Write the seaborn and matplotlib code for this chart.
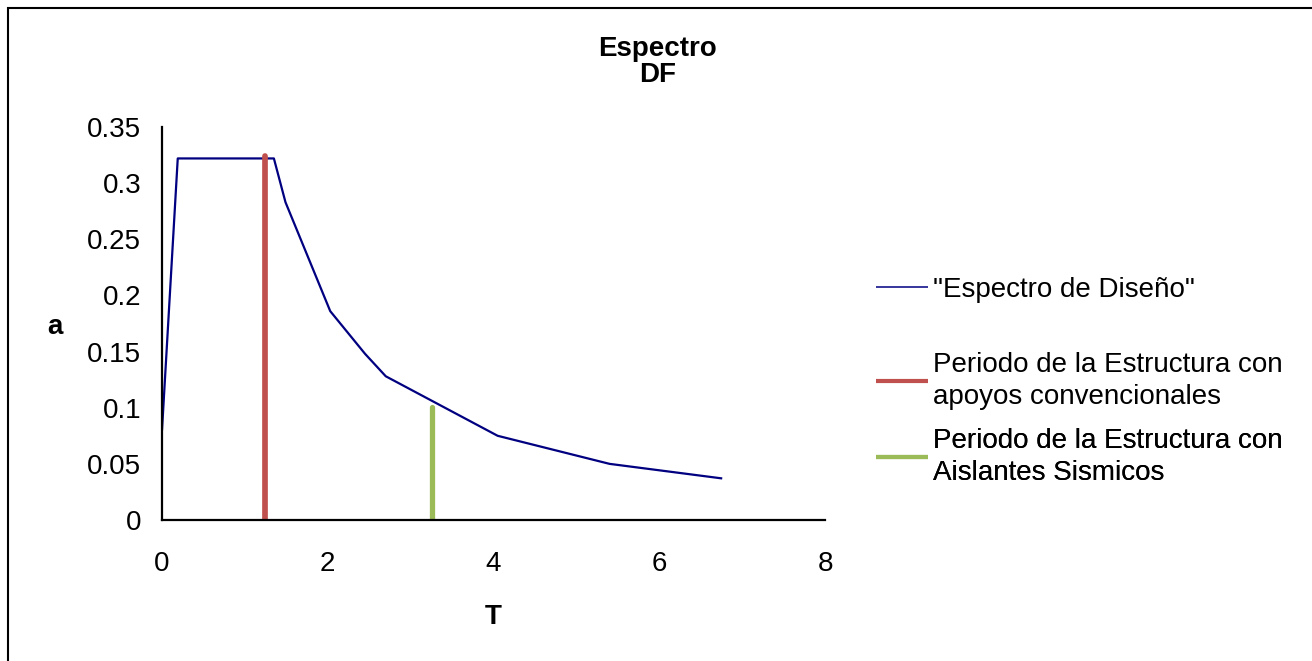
import matplotlib
matplotlib.use("Agg")
import matplotlib.pyplot as plt
from matplotlib.patches import Rectangle
import seaborn as sns
import pandas as pd

# Design spectrum (period T in s, spectral acceleration a)
T_espectro = [0.0, 0.19, 1.35, 1.49, 2.03, 2.45, 2.70, 4.05, 5.40, 6.76]
a_espectro = [0.080, 0.322, 0.322, 0.283, 0.186, 0.148, 0.128, 0.075, 0.050, 0.037]

# Structure periods
T_convencional = [1.24, 1.24]
a_convencional = [0.0, 0.324]
T_aislada = [3.26, 3.26]
a_aislada = [0.0, 0.101]

labels = ['"Espectro de Diseño"',
          "Periodo de la Estructura con\napoyos convencionales",
          "Periodo de la Estructura con\nAislantes Sismicos"]
colors = ["#000080", "#C0504D", "#9BBB59"]
widths = [1.6, 4.1, 3.8]
caps = ["butt", "round", "round"]
FS = 20

sns.set_theme(style="white")
plt.rcParams["font.family"] = ["Liberation Sans", "DejaVu Sans"]
plt.rcParams["text.color"] = "black"
plt.rcParams["axes.labelcolor"] = "black"

fig = plt.figure(figsize=(13.12, 6.61), dpi=100)
fig.patch.set_facecolor("white")
ax = fig.add_axes([162 / 1312, 1 - 520 / 661, (825 - 162) / 1312, (520 - 127) / 661])

series = [(T_espectro, a_espectro), (T_convencional, a_convencional), (T_aislada, a_aislada)]
for (xs, ys), lab, c, w, cap in zip(series, labels, colors, widths, caps):
    df = pd.DataFrame({"T": xs, "a": ys})
    sns.lineplot(data=df, x="T", y="a", sort=False, estimator=None, color=c,
                 linewidth=w, label=lab, ax=ax, solid_capstyle=cap, clip_on=True)

ax.set_xlim(0, 8)
ax.set_ylim(0, 0.35)
ax.set_xticks([0, 2, 4, 6, 8])
ax.set_yticks([0, 0.05, 0.1, 0.15, 0.2, 0.25, 0.3, 0.35])
ax.set_yticklabels(["0", "0.05", "0.1", "0.15", "0.2", "0.25", "0.3", "0.35"])
ax.tick_params(axis="both", labelsize=FS, length=0, colors="black")
ax.tick_params(axis="x", pad=22)
ax.tick_params(axis="y", pad=15)
for side in ("top", "right"):
    ax.spines[side].set_visible(False)
for side in ("left", "bottom"):
    ax.spines[side].set_color("black")
    ax.spines[side].set_linewidth(1.6)
    ax.spines[side].set_zorder(3)

ax.set_xlabel("T", fontsize=FS, fontweight="bold")
ax.set_ylabel("a", fontsize=FS, fontweight="bold", rotation=0)
ax.xaxis.set_label_coords((493 - 162) / 663, (520 - 617) / 393)
ax.yaxis.set_label_coords((55 - 162) / 663, (520 - 327) / 393)
ax.xaxis.label.set_va("center")
ax.yaxis.label.set_va("center")
ax.yaxis.label.set_ha("center")

fig.text(658 / 1312, 1 - 62 / 661, "Espectro\nDF", ha="center", va="center",
         fontsize=FS, fontweight="bold", linespacing=1.05)

# Legend entries placed individually
handles, labs = ax.get_legend_handles_labels()
if ax.get_legend() is not None:
    ax.get_legend().remove()
centers = [290, 381, 457]
leg_w = [1.1, 3.0, 3.0]
for h, lab, cy, w in zip(handles, labs, centers, leg_w):
    leg = ax.legend([h], [lab], loc="center left",
                    bbox_to_anchor=((876 - 162) / 663, (520 - cy) / 393),
                    frameon=False, fontsize=FS, handlelength=1.87,
                    handletextpad=0.18, borderpad=0, borderaxespad=0,
                    labelspacing=0)
    for t in leg.get_texts():
        t.set_linespacing(1.3)
    line = leg.get_lines()[0]
    line.set_linewidth(w)
    line.set_solid_capstyle("butt")
    ax.add_artist(leg)

# Chart area border
fig.patches.append(Rectangle((8, -20), 1330, 661 - 8 + 20, transform=None,
                             fill=False, edgecolor="black", linewidth=1.5))

fig.savefig("out.png", dpi=100, facecolor="white")
